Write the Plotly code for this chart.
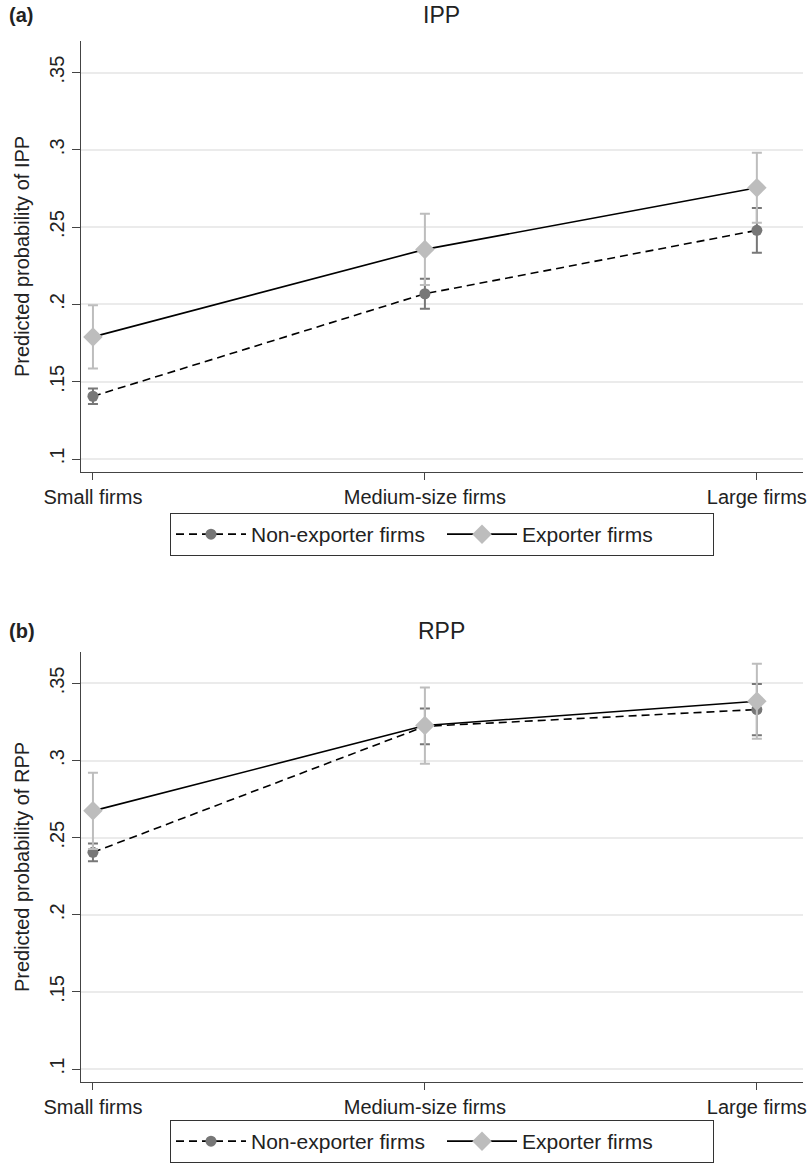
import plotly.graph_objects as go

W, H = 811, 1163

categories = ["Small firms", "Medium-size firms", "Large firms"]
series_names = ["Non-exporter firms", "Exporter firms"]

ipp_non = [0.1406, 0.2069, 0.2479]
ipp_non_err = [0.0050, 0.0097, 0.0144]
ipp_exp = [0.1790, 0.2356, 0.2755]
ipp_exp_err = [0.0205, 0.0231, 0.0226]

rpp_non = [0.2405, 0.3222, 0.3331]
rpp_non_err = [0.0058, 0.0116, 0.0166]
rpp_exp = [0.2674, 0.3227, 0.3385]
rpp_exp_err = [0.0247, 0.0247, 0.0243]

y_tickvals = [0.1, 0.15, 0.2, 0.25, 0.3, 0.35]
y_ticktext = [".1", ".15", ".2", ".25", ".3", ".35"]

FONT = "Liberation Sans, Arial, Helvetica, sans-serif"
DARK = "#777777"
LIGHT = "#bdbdbd"

fig = go.Figure()

panels = [
    ("x", "y", "legend", ipp_non, ipp_non_err, ipp_exp, ipp_exp_err),
    ("x2", "y2", "legend2", rpp_non, rpp_non_err, rpp_exp, rpp_exp_err),
]

for xa, ya, lg, non, non_err, exp, exp_err in panels:
    fig.add_trace(go.Scatter(
        x=categories, y=non, xaxis=xa, yaxis=ya, legend=lg,
        name=series_names[0], mode="lines+markers",
        line=dict(color="black", width=1.6, dash="8px,5px"),
        marker=dict(symbol="circle", size=11, color=DARK),
        error_y=dict(type="data", array=non_err, visible=True,
                     color=DARK, thickness=2, width=5),
    ))
    fig.add_trace(go.Scatter(
        x=categories, y=exp, xaxis=xa, yaxis=ya, legend=lg,
        name=series_names[1], mode="lines+markers",
        line=dict(color="black", width=1.6),
        marker=dict(symbol="diamond", size=15, color=LIGHT),
        error_y=dict(type="data", array=exp_err, visible=True,
                     color=LIGHT, thickness=2, width=5),
    ))

xdom = [81 / W, 803 / W]
ydom_a = [1 - 472 / H, 1 - 41 / H]
ydom_b = [1 - 1082 / H, 1 - 652 / H]
xrange_ = [-0.036, 2.139]
yrange_ = [0.0916, 0.3704]

def xaxis_cfg(anchor):
    return dict(
        domain=xdom, anchor=anchor, type="category", range=xrange_,
        automargin=False,
        showline=True, linecolor="#444", linewidth=1.3,
        ticks="outside", ticklen=7, tickcolor="#444", tickwidth=1.3,
        showgrid=False, zeroline=False,
        tickfont=dict(size=20, color="#222", family=FONT),
    )

def yaxis_cfg(anchor, dom, title):
    return dict(
        domain=dom, anchor=anchor, range=yrange_, automargin=False,
        tickvals=y_tickvals, ticktext=y_ticktext, tickangle=-90,
        showline=True, linecolor="#444", linewidth=1.3,
        ticks="outside", ticklen=8, tickcolor="#444", tickwidth=1.3,
        showgrid=True, gridcolor="#ebebeb", gridwidth=1.5, zeroline=False,
        tickfont=dict(size=20, color="#222", family=FONT),
        title=dict(text=title, font=dict(size=20, color="#222", family=FONT),
                   standoff=10),
    )

legend_common = dict(
    orientation="h", xanchor="left", yanchor="top",
    bordercolor="#333", borderwidth=1, bgcolor="white",
    font=dict(size=21, color="#222", family=FONT),
    itemwidth=70, entrywidth=186, entrywidthmode="pixels",
    tracegroupgap=0,
)

fig.update_layout(
    width=W, height=H,
    margin=dict(l=0, r=0, t=0, b=0, autoexpand=False),
    paper_bgcolor="white", plot_bgcolor="white",
    font=dict(family=FONT, color="#222"),
    xaxis=xaxis_cfg("y"),
    yaxis=yaxis_cfg("x", ydom_a, "Predicted probability of IPP"),
    xaxis2=xaxis_cfg("y2"),
    yaxis2=yaxis_cfg("x2", ydom_b, "Predicted probability of RPP"),
    legend=dict(x=170 / W, y=1 - 513 / H, **legend_common),
    legend2=dict(x=170 / W, y=1 - 1120 / H, **legend_common),
    annotations=[
        dict(text="<b>(a)</b>", x=7 / W, y=1 - 15 / H, xref="paper", yref="paper",
             xanchor="left", yanchor="middle", showarrow=False,
             font=dict(size=20, color="#222", family=FONT)),
        dict(text="IPP", x=442 / W, y=1 - 15 / H, xref="paper", yref="paper",
             xanchor="center", yanchor="middle", showarrow=False,
             font=dict(size=23, color="#222", family=FONT)),
        dict(text="<b>(b)</b>", x=7 / W, y=1 - 631 / H, xref="paper", yref="paper",
             xanchor="left", yanchor="middle", showarrow=False,
             font=dict(size=20, color="#222", family=FONT)),
        dict(text="RPP", x=442 / W, y=1 - 631 / H, xref="paper", yref="paper",
             xanchor="center", yanchor="middle", showarrow=False,
             font=dict(size=23, color="#222", family=FONT)),
    ],
)

fig.write_html(
    "out.html",
    config={"displayModeBar": False},
    post_script="document.body.style.margin='0';document.body.style.overflow='hidden';",
)
